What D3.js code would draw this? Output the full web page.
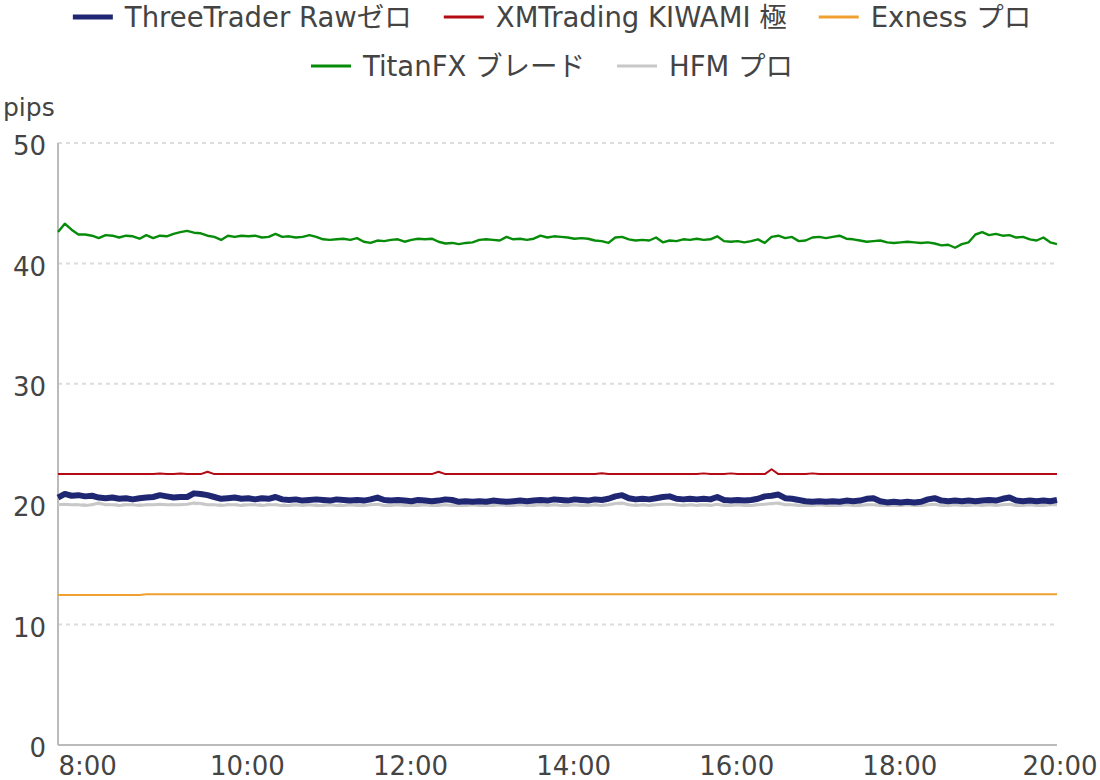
<!DOCTYPE html>
<meta charset="utf-8">
<style>

body {
  margin: 0;
  background: #fff;
}

svg text {
  font-family: Verdana, "DejaVu Sans", "Noto Sans CJK JP", sans-serif;
  fill: #444;
}

.line {
  fill: none;
  stroke-linejoin: round;
}

</style>
<body>
<script src="https://d3js.org/d3.v7.min.js"></script>
<script>

// x categories: one sample every 5 minutes, starting at 7:41
var startTime = "07:41";
var stepMinutes = 5;

var xTickLabels = ["8:00", "10:00", "12:00", "14:00", "16:00", "18:00", "20:00"];
var yTicks = [0, 10, 20, 30, 40, 50];

var seriesNames = ["ThreeTrader Rawゼロ", "XMTrading KIWAMI 極", "Exness プロ", "TitanFX ブレード", "HFM プロ"];

var threeTrader = [
  20.55, 20.85, 20.7, 20.75, 20.65, 20.7, 20.55, 20.5, 20.55, 20.45,
  20.5, 20.4, 20.5, 20.55, 20.6, 20.75, 20.65, 20.55, 20.6, 20.6,
  20.9, 20.85, 20.75, 20.6, 20.45, 20.5, 20.55, 20.45, 20.5, 20.4,
  20.5, 20.45, 20.6, 20.4, 20.35, 20.4, 20.3, 20.35, 20.4, 20.35,
  20.3, 20.4, 20.35, 20.3, 20.35, 20.3, 20.4, 20.55, 20.35, 20.3,
  20.35, 20.3, 20.25, 20.35, 20.3, 20.25, 20.3, 20.4, 20.35, 20.2,
  20.25, 20.2, 20.25, 20.2, 20.3, 20.25, 20.2, 20.25, 20.3, 20.25,
  20.3, 20.35, 20.3, 20.4, 20.35, 20.3, 20.4, 20.35, 20.3, 20.4,
  20.35, 20.45, 20.65, 20.75, 20.5, 20.4, 20.45, 20.4, 20.5, 20.6,
  20.65, 20.45, 20.4, 20.45, 20.4, 20.45, 20.4, 20.6, 20.35, 20.3,
  20.35, 20.3, 20.35, 20.45, 20.65, 20.7, 20.8, 20.5, 20.45, 20.35,
  20.25, 20.2, 20.25, 20.2, 20.25, 20.2, 20.3, 20.25, 20.3, 20.45,
  20.5, 20.25, 20.15, 20.2, 20.15, 20.2, 20.15, 20.2, 20.4, 20.5,
  20.3, 20.25, 20.3, 20.25, 20.3, 20.25, 20.3, 20.35, 20.3, 20.45,
  20.55, 20.3, 20.25, 20.3, 20.25, 20.3, 20.25, 20.35
];

var xmTrading = [
  22.5, 22.5, 22.5, 22.5, 22.5, 22.5, 22.5, 22.5, 22.5, 22.5,
  22.5, 22.5, 22.5, 22.5, 22.5, 22.55, 22.5, 22.5, 22.55, 22.5,
  22.5, 22.5, 22.7, 22.5, 22.5, 22.5, 22.5, 22.5, 22.5, 22.5,
  22.5, 22.5, 22.5, 22.5, 22.5, 22.5, 22.5, 22.5, 22.5, 22.5,
  22.5, 22.5, 22.5, 22.5, 22.5, 22.5, 22.5, 22.5, 22.5, 22.5,
  22.5, 22.5, 22.5, 22.5, 22.5, 22.5, 22.7, 22.5, 22.5, 22.5,
  22.5, 22.5, 22.5, 22.5, 22.5, 22.5, 22.5, 22.5, 22.5, 22.5,
  22.5, 22.5, 22.5, 22.5, 22.5, 22.5, 22.5, 22.5, 22.5, 22.5,
  22.58, 22.5, 22.5, 22.5, 22.5, 22.5, 22.5, 22.5, 22.5, 22.5,
  22.5, 22.5, 22.5, 22.5, 22.5, 22.56, 22.5, 22.5, 22.5, 22.56,
  22.5, 22.5, 22.5, 22.5, 22.5, 22.9, 22.5, 22.5, 22.5, 22.5,
  22.5, 22.56, 22.5, 22.5, 22.5, 22.5, 22.5, 22.5, 22.5, 22.5,
  22.5, 22.5, 22.5, 22.5, 22.5, 22.5, 22.5, 22.5, 22.5, 22.5,
  22.5, 22.5, 22.5, 22.5, 22.5, 22.5, 22.5, 22.5, 22.5, 22.5,
  22.5, 22.5, 22.5, 22.5, 22.5, 22.5, 22.5, 22.5
];

var exness = [
  12.45, 12.45, 12.45, 12.45, 12.45, 12.45, 12.45, 12.45, 12.45, 12.45,
  12.45, 12.45, 12.45, 12.52, 12.52, 12.52, 12.52, 12.52, 12.52, 12.52,
  12.52, 12.52, 12.52, 12.52, 12.52, 12.52, 12.52, 12.52, 12.52, 12.52,
  12.52, 12.52, 12.52, 12.52, 12.52, 12.52, 12.52, 12.52, 12.52, 12.52,
  12.52, 12.52, 12.52, 12.52, 12.52, 12.52, 12.52, 12.52, 12.52, 12.52,
  12.52, 12.52, 12.52, 12.52, 12.52, 12.52, 12.52, 12.52, 12.52, 12.52,
  12.52, 12.52, 12.52, 12.52, 12.52, 12.52, 12.52, 12.52, 12.52, 12.52,
  12.52, 12.52, 12.52, 12.52, 12.52, 12.52, 12.52, 12.52, 12.52, 12.52,
  12.52, 12.52, 12.52, 12.52, 12.52, 12.52, 12.52, 12.52, 12.52, 12.52,
  12.52, 12.52, 12.52, 12.52, 12.52, 12.52, 12.52, 12.52, 12.52, 12.52,
  12.52, 12.52, 12.52, 12.52, 12.52, 12.52, 12.52, 12.52, 12.52, 12.52,
  12.52, 12.52, 12.52, 12.52, 12.52, 12.52, 12.52, 12.52, 12.52, 12.52,
  12.52, 12.52, 12.52, 12.52, 12.52, 12.52, 12.52, 12.52, 12.52, 12.52,
  12.52, 12.52, 12.52, 12.52, 12.52, 12.52, 12.52, 12.52, 12.52, 12.52,
  12.52, 12.52, 12.52, 12.52, 12.52, 12.52, 12.52, 12.52
];

var titanFX = [
  42.6, 43.3, 42.8, 42.4, 42.4, 42.3, 42.1, 42.35, 42.3, 42.15,
  42.3, 42.25, 42.05, 42.35, 42.1, 42.3, 42.25, 42.45, 42.6, 42.7,
  42.55, 42.5, 42.3, 42.2, 41.95, 42.3, 42.2, 42.3, 42.25, 42.3,
  42.15, 42.2, 42.45, 42.2, 42.25, 42.15, 42.2, 42.35, 42.2, 42.0,
  41.95, 42.0, 42.05, 41.95, 42.1, 41.8, 41.7, 41.9, 41.85, 41.95,
  42.0, 41.8, 41.95, 42.05, 42.0, 42.05, 41.8, 41.65, 41.7, 41.6,
  41.7, 41.75, 41.95, 42.0, 41.95, 41.9, 42.2, 42.0, 42.05, 41.95,
  42.05, 42.3, 42.15, 42.25, 42.2, 42.15, 42.05, 42.1, 42.05, 41.9,
  41.85, 41.7, 42.15, 42.2, 42.0, 41.9, 41.95, 41.9, 42.15, 41.75,
  41.9, 41.85, 42.0, 41.95, 42.05, 41.95, 42.0, 42.25, 41.85, 41.8,
  41.85, 41.75, 41.85, 42.0, 41.7, 42.2, 42.3, 42.1, 42.2, 41.85,
  41.9, 42.15, 42.2, 42.1, 42.2, 42.3, 42.05, 42.0, 41.9, 41.8,
  41.85, 41.9, 41.75, 41.7, 41.75, 41.8, 41.75, 41.7, 41.75, 41.65,
  41.5, 41.55, 41.3, 41.6, 41.75, 42.4, 42.6, 42.35, 42.45, 42.3,
  42.35, 42.15, 42.2, 42.0, 41.9, 42.15, 41.75, 41.6
];

var hfm = [
  19.95, 20.0, 19.95, 19.95, 19.9, 19.95, 20.1, 19.95, 19.95, 19.9,
  19.95, 19.95, 19.9, 19.95, 19.95, 20.0, 19.95, 19.95, 19.95, 20.0,
  20.1, 20.05, 19.95, 19.95, 19.9, 19.95, 19.95, 19.9, 19.95, 19.95,
  19.9, 19.95, 19.95, 19.9, 19.9, 19.95, 19.9, 19.95, 19.9, 19.9,
  19.95, 19.9, 19.9, 19.95, 19.9, 19.9, 19.95, 20.0, 19.9, 19.9,
  19.95, 19.9, 19.9, 19.9, 19.95, 19.9, 19.9, 19.95, 19.9, 19.9,
  19.9, 19.95, 19.9, 19.9, 19.9, 19.95, 19.9, 19.9, 19.95, 19.9,
  19.9, 19.95, 19.9, 19.95, 19.9, 19.9, 19.95, 19.9, 19.9, 19.95,
  19.9, 19.95, 20.05, 20.1, 19.95, 19.9, 19.95, 19.9, 19.95, 20.0,
  20.0, 19.95, 19.9, 19.95, 19.9, 19.95, 19.9, 20.0, 19.9, 19.9,
  19.95, 19.9, 19.9, 19.95, 20.0, 20.05, 20.1, 19.95, 19.95, 19.9,
  19.9, 19.9, 19.95, 19.9, 19.9, 19.9, 19.95, 19.9, 19.9, 19.95,
  19.95, 19.9, 19.9, 19.9, 19.9, 19.95, 19.9, 19.9, 19.95, 20.0,
  19.9, 19.9, 19.95, 19.9, 19.9, 19.95, 19.9, 19.95, 19.9, 19.95,
  20.0, 19.9, 19.9, 19.95, 19.9, 19.9, 19.95, 19.95
];

var width = 1100;
var height = 780;
var margin = {top: 143, right: 43, bottom: 35, left: 58};

var toMinutes = s => { var p = s.split(":"); return +p[0] * 60 + +p[1]; };

var start = toMinutes(startTime);
var times = threeTrader.map((d, i) => start + i * stepMinutes);

var series = [
  {name: seriesNames[4], values: hfm, color: "#c8c8c8", width: 3, legendWidth: 3},
  {name: seriesNames[2], values: exness, color: "#f0a030", width: 2, legendWidth: 3},
  {name: seriesNames[1], values: xmTrading, color: "#b40a14", width: 2, legendWidth: 3},
  {name: seriesNames[0], values: threeTrader, color: "#1f2773", width: 6, legendWidth: 5},
  {name: seriesNames[3], values: titanFX, color: "#078c0a", width: 2.4, legendWidth: 3}
];

var xScale = d3.scaleLinear()
    .domain(d3.extent(times))
    .range([margin.left, width - margin.right]);

var yScale = d3.scaleLinear()
    .domain([0, 50])
    .range([height - margin.bottom, margin.top]);

var svg = d3.select("body").append("svg")
    .attr("width", width)
    .attr("height", height);

// dashed grid
svg.append("g")
  .selectAll("line")
  .data(yTicks.filter(d => d > 0))
  .enter().append("line")
    .attr("x1", margin.left)
    .attr("x2", width - margin.right)
    .attr("y1", d => yScale(d))
    .attr("y2", d => yScale(d))
    .attr("stroke", "#dcdcdc")
    .attr("stroke-width", 2)
    .attr("stroke-dasharray", "4,4");

// y axis
var yAxis = d3.axisLeft(yScale)
    .tickValues(yTicks)
    .tickSize(0)
    .tickPadding(12);

var gy = svg.append("g")
    .attr("transform", `translate(${margin.left},0)`)
    .call(yAxis);
gy.select(".domain").remove();
gy.selectAll("text")
    .attr("font-size", 26)
    .attr("dy", "0.45em");

svg.append("line")
    .attr("x1", margin.left)
    .attr("x2", margin.left)
    .attr("y1", yScale(50))
    .attr("y2", yScale(0))
    .attr("stroke", "#bbb")
    .attr("stroke-width", 2);

// x axis
var xAxis = d3.axisBottom(xScale)
    .tickValues(xTickLabels.map(toMinutes))
    .tickFormat((d, i) => xTickLabels[i])
    .tickSize(0)
    .tickPadding(8);

var gx = svg.append("g")
    .attr("transform", `translate(0,${yScale(0)})`)
    .call(xAxis);
gx.select(".domain").remove();
gx.selectAll("text")
    .attr("font-size", 26)
    .attr("dy", "0.85em");

// keep first and last label inside the picture
var xText = gx.selectAll("text").nodes();
var firstPos = xScale(toMinutes(xTickLabels[0]));
d3.select(xText[0]).attr("text-anchor", "start").attr("x", margin.left - firstPos);
var lastPos = xScale(toMinutes(xTickLabels[xTickLabels.length - 1]));
d3.select(xText[xText.length - 1]).attr("text-anchor", "end").attr("x", width - 3 - lastPos);

svg.append("line")
    .attr("x1", margin.left)
    .attr("x2", width - margin.right)
    .attr("y1", yScale(0))
    .attr("y2", yScale(0))
    .attr("stroke", "#bbb")
    .attr("stroke-width", 2);

svg.append("text")
    .attr("x", 3)
    .attr("y", 116)
    .attr("font-size", 25)
    .text("pips");

// lines
var line = d3.line()
    .x((d, i) => xScale(times[i]))
    .y(d => yScale(d));

svg.selectAll(".line")
    .data(series)
  .enter().append("path")
    .attr("class", "line")
    .attr("d", d => line(d.values))
    .attr("stroke", d => d.color)
    .attr("stroke-width", d => d.width);

// legend, two centred rows
var legendRows = [
  [seriesNames[0], seriesNames[1], seriesNames[2]],
  [seriesNames[3], seriesNames[4]]
];
var rowY = [17, 66];
var swatch = 40, swatchGap = 12, itemGap = 32, centerX = 552;

legendRows.forEach(function(names, r) {
  var row = svg.append("g");
  var x = 0;
  names.forEach(function(name) {
    var s = series.find(d => d.name === name);
    var item = row.append("g").attr("transform", `translate(${x},0)`);
    item.append("line")
        .attr("x1", 0)
        .attr("x2", swatch)
        .attr("y1", rowY[r])
        .attr("y2", rowY[r])
        .attr("stroke", s.color)
        .attr("stroke-width", s.legendWidth);
    var t = item.append("text")
        .attr("x", swatch + swatchGap)
        .attr("y", rowY[r])
        .attr("dy", "0.36em")
        .attr("font-size", 27.5)
        .text(name);
    x += swatch + swatchGap + t.node().getComputedTextLength() + itemGap;
  });
  var total = x - itemGap;
  row.attr("transform", `translate(${centerX - total / 2},0)`);
});

</script>
